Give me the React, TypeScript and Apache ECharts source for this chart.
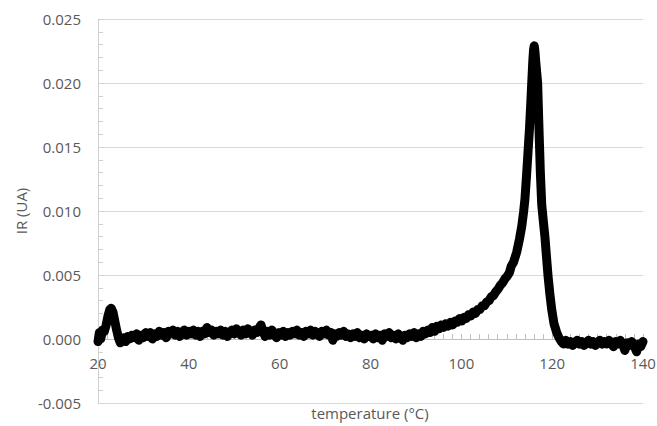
import React, { useEffect, useRef } from "react";
import * as echarts from "echarts";

const temperature: number[] = [
  20.0, 20.3, 20.6, 21.0, 21.4, 21.8, 22.2, 22.6, 22.9, 23.3, 23.7, 24.1, 24.5, 24.9, 25.3, 25.7, 26.1, 26.5,
  27.0, 27.5, 28.0, 28.5, 29.0, 29.5, 30.0, 30.5, 31.0, 31.5, 32.0, 32.5, 33.0, 33.5, 34.0, 34.5, 35.0, 35.5,
  36.0, 36.5, 37.0, 37.5, 38.0, 38.5, 39.0, 39.5, 40.0, 40.5, 41.0, 41.5, 42.0, 42.5, 43.0, 43.5, 44.0, 44.5,
  45.0, 45.5, 46.0, 46.5, 47.0, 47.5, 48.0, 48.5, 49.0, 49.5, 50.0, 50.5, 51.0, 51.5, 52.0, 52.5, 53.0, 53.5,
  54.0, 54.5, 55.0, 55.5, 55.9, 56.3, 56.8, 57.3, 57.8, 58.3, 58.8, 59.3, 59.8, 60.3, 60.8, 61.3, 61.8, 62.3,
  62.8, 63.3, 63.8, 64.3, 64.8, 65.3, 65.8, 66.3, 66.8, 67.3, 67.8, 68.3, 68.8, 69.3, 69.8, 70.3, 70.8, 71.3,
  71.7, 72.1, 72.6, 73.1, 73.6, 74.1, 74.6, 75.1, 75.6, 76.1, 76.6, 77.1, 77.6, 78.1, 78.6, 79.1, 79.6, 80.1,
  80.6, 81.1, 81.6, 82.1, 82.6, 83.1, 83.6, 84.1, 84.6, 85.1, 85.6, 86.1, 86.6, 87.1, 87.6, 88.1, 88.6, 89.1,
  89.6, 90.1, 90.6, 91.1, 91.6, 92.1, 92.6, 93.1, 93.6, 94.1, 94.6, 95.1, 95.6, 96.1, 96.6, 97.1, 97.6, 98.1,
  98.6, 99.1, 99.6, 100.1, 100.6, 101.1, 101.6, 102.1, 102.6, 103.1, 103.6, 104.1, 104.6, 105.1, 105.6, 106.1,
  106.6, 107.1, 107.6, 108.1, 108.6, 109.1, 109.6, 110.1, 110.6, 111.0, 111.5, 112.2, 112.8, 113.3, 113.7,
  114.0, 114.4, 114.7, 115.0, 115.3, 115.5, 115.75, 115.9, 116.05, 116.2, 116.4, 116.8, 117.1, 117.4, 117.7,
  118.0, 118.4, 118.8, 119.1, 119.5, 119.9, 120.4, 121.0, 121.5, 122.0, 122.5, 123.0, 123.5, 124.0, 124.5,
  125.0, 125.5, 126.0, 126.5, 127.0, 127.5, 128.0, 128.5, 129.0, 129.5, 130.0, 130.5, 131.0, 131.5, 132.0,
  132.5, 133.0, 133.5, 134.0, 134.5, 135.0, 135.5, 136.0, 136.5, 137.0, 137.5, 138.0, 138.6, 139.0, 139.5, 140.0,
];

const irSignal: number[] = [
  -0.0002, 0.0005, 0.0, 0.0007, 0.0006, 0.0011, 0.0018, 0.0023, 0.0024, 0.0021, 0.0014, 0.0007, 0.0001, -0.0003, -0.0002, 0.0001, -0.0002, 0.0002,
  0.0, 0.0003, 0.0001, 0.0004, -0.0001, 0.0003, 0.0001, 0.0005, 0.0002, 0.0005, 0.0, 0.0004, 0.0002, 0.0006, 0.0003, 0.0005, 0.0001, 0.0006,
  0.0004, 0.0007, 0.0003, 0.0006, 0.0002, 0.0005, 0.0007, 0.0003, 0.0006, 0.0004, 0.0007, 0.0003, 0.0006, 0.0002, 0.0006, 0.0004, 0.0009, 0.0005,
  0.0007, 0.0003, 0.0006, 0.0004, 0.0007, 0.0003, 0.0006, 0.0002, 0.0005, 0.0007, 0.0004, 0.0008, 0.0005, 0.0003, 0.0007, 0.0004, 0.0008, 0.0005,
  0.0003, 0.0007, 0.0005, 0.0009, 0.0011, 0.0006, 0.0002, 0.0006, 0.0003, 0.0007, 0.0004, 0.0001, 0.0005, 0.0003, 0.0006, 0.0002, 0.0005, 0.0003,
  0.0006, 0.0004, 0.0007, 0.0003, 0.0005, 0.0002, 0.0006, 0.0004, 0.0007, 0.0003, 0.0006, 0.0004, 0.0002, 0.0006, 0.0004, 0.0007, 0.0003, 0.0005,
  -0.0001, 0.0004, 0.0002, 0.0005, 0.0003, 0.0006, 0.0002, 0.0004, 0.0001, 0.0004, 0.0002, 0.0005, 0.0001, 0.0003, 0.0, 0.0004, 0.0002, 0.0003,
  0.0, 0.0004, 0.0001, 0.0003, -0.0001, 0.0004, 0.0002, 0.0005, 0.0001, 0.0003, 0.0, 0.0004, 0.0002, -0.0001, 0.0003, 0.0001, 0.0004, 0.0002,
  0.0005, 0.0001, 0.0004, 0.0002, 0.0006, 0.0004, 0.0007, 0.0005, 0.0009, 0.0006, 0.001, 0.0008, 0.0011, 0.0009, 0.0012, 0.001, 0.0013, 0.0011,
  0.0014, 0.0013, 0.0016, 0.0014, 0.0017, 0.0016, 0.0019, 0.0018, 0.0021, 0.002, 0.0023, 0.0023, 0.0026, 0.0026, 0.0029, 0.003,
  0.0033, 0.0034, 0.0037, 0.0039, 0.0042, 0.0044, 0.0047, 0.0049, 0.0052, 0.0057, 0.006, 0.0068, 0.0078, 0.0088, 0.0099,
  0.0109, 0.013, 0.0147, 0.0164, 0.0185, 0.02, 0.0218, 0.0226, 0.0229, 0.0225, 0.0216, 0.02, 0.0164, 0.013, 0.0105,
  0.0094, 0.008, 0.0062, 0.0049, 0.0035, 0.0023, 0.0012, 0.0005, 0.0001, -0.0002, -0.0004, -0.0001, -0.0004, -0.0002, -0.0005,
  -0.0003, -0.0001, -0.0004, -0.0002, -0.0005, -0.0003, -0.0001, -0.0004, -0.0002, -0.0005, -0.0003, -0.0001, -0.0004, -0.0002, -0.0004,
  -0.0001, -0.0003, -0.0006, -0.0002, -0.0004, -0.0001, -0.0004, -0.0009, -0.0003, -0.0005, -0.0002, -0.0005, -0.001, -0.0004, -0.0006, -0.0002,
];

const xAxisTitle = "temperature (°C)";
const yAxisTitle = "IR (UA)";

const FONT = "'Open Sans', 'Noto Sans', sans-serif";
const TEXT = "#595959";

export default function App() {
  const ref = useRef<HTMLDivElement>(null);
  useEffect(() => {
    if (!ref.current) return;
    const chart = echarts.init(ref.current, undefined, { renderer: "svg" });
    const data = temperature.map((t, i) => [t, irSignal[i]]);
    chart.setOption({
      animation: false,
      backgroundColor: "#ffffff",
      grid: { left: 98, right: 14, top: 19, bottom: 23, containLabel: false, outerBoundsMode: "none" },
      xAxis: {
        type: "value",
        min: 20,
        max: 140,
        interval: 20,
        axisLine: { show: true, onZero: true, lineStyle: { color: "#bfbfbf", width: 1 } },
        axisTick: { show: true, inside: true, length: 5, lineStyle: { color: "#bfbfbf" } },
        minorTick: { show: true, splitNumber: 10, length: 5, lineStyle: { color: "#bfbfbf" } },
        splitLine: { show: false },
        axisLabel: { color: TEXT, fontSize: 15, fontFamily: FONT, margin: -48 },
      },
      yAxis: {
        type: "value",
        min: -0.005,
        max: 0.025,
        interval: 0.005,
        axisLine: { show: true, lineStyle: { color: "#d0d0d0", width: 1 } },
        axisTick: { show: true, inside: true, length: 5, lineStyle: { color: "#d0d0d0" } },
        minorTick: { show: true, splitNumber: 5, length: 5, lineStyle: { color: "#d0d0d0" } },
        splitLine: { show: true, lineStyle: { color: "#d9d9d9", width: 1 } },
        axisLabel: {
          color: TEXT,
          fontSize: 15,
          fontFamily: FONT,
          margin: 17,
          formatter: (v: number) => v.toFixed(3),
        },
      },
      series: [
        {
          type: "line",
          data,
          showSymbol: false,
          symbol: "none",
          lineStyle: { color: "#000000", width: 9, cap: "round", join: "round" },
          z: 3,
        },
      ],
      graphic: [
        {
          type: "text",
          x: 370,
          y: 413,
          style: {
            text: xAxisTitle,
            fill: TEXT,
            fontSize: 15,
            fontFamily: FONT,
            align: "center",
            verticalAlign: "middle",
          },
        },
        {
          type: "text",
          x: 21,
          y: 211,
          rotation: Math.PI / 2,
          style: {
            text: yAxisTitle,
            fill: TEXT,
            fontSize: 15,
            fontFamily: FONT,
            align: "center",
            verticalAlign: "middle",
          },
        },
      ],
    });
    return () => chart.dispose();
  }, []);
  return <div ref={ref} style={{ width: 657, height: 426, position: "absolute", left: 0, top: 0 }} />;
}
